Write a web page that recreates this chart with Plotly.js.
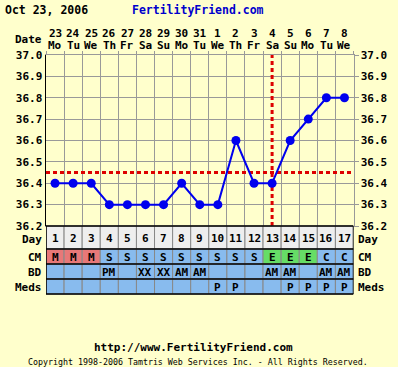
<!DOCTYPE html>
<html>
<head>
<meta charset="utf-8">
<script src="https://cdn.plot.ly/plotly-3.0.1.min.js"></script>
<style>html,body{margin:0;padding:0;background:#FFFFCC;}</style>
</head>
<body>
<div id="chart" style="width:398px;height:367px;"></div>
<script>
// ---- data ----
const days = [1,2,3,4,5,6,7,8,9,10,11,12,13,14,15,16,17];
const dateNums = ["23","24","25","26","27","28","29","30","31","1","2","3","4","5","6","7","8"];
const weekdays = ["Mo","Tu","We","Th","Fr","Sa","Su","Mo","Tu","We","Th","Fr","Sa","Su","Mo","Tu","We"];
const temps = [36.4,36.4,36.4,36.3,36.3,36.3,36.3,36.4,36.3,36.3,36.6,36.4,36.4,36.6,36.7,36.8,36.8];
const cm = ["M","M","M","S","S","S","S","S","S","S","S","S","E","E","E","C","C"];
const bd = ["","","","PM","","XX","XX","AM","AM","","","","AM","AM","","AM","AM"];
const meds = ["","","","","","","","","","P","P","","","P","P","P","P"];
const tempTicks = [36.2,36.3,36.4,36.5,36.6,36.7,36.8,36.9,37.0];
const tempTickText = ["36.2","36.3","36.4","36.5","36.6","36.7","36.8","36.9","37.0"];
const coverline = 36.45;
const ovulationDay = 13;
const chartDate = "Oct 23, 2006";

// ---- layout helpers ----
const W = 398, H = 367;
const py = p => 1 - p / H;
const px = p => p / W;
const BG = "#FFFFCC";
const FONT = "DejaVu Sans Mono";
const FS = 11;
const boldFont = (size, color) => ({family: FONT, size: size, color: color || "#000", weight: "bold"});

const cmColor = {M: "#E87878", S: "#88BBEE", E: "#66DD66", C: "#88BBEE"};
const rows = [
  {name: "Day", top: 226, bot: 249},
  {name: "CM", top: 249, bot: 264},
  {name: "BD", top: 264, bot: 279},
  {name: "Meds", top: 279, bot: 294}
];

const shapes = [];
const annotations = [];

// table cells
rows.forEach((r, ri) => {
  days.forEach((d, i) => {
    let fill = "#88BBEE";
    if (ri === 0) fill = "#EEEEEE";
    if (ri === 1) fill = cmColor[cm[i]];
    shapes.push({type: "rect", xref: "x", yref: "paper", x0: d - 0.5, x1: d + 0.5,
      y0: py(r.bot), y1: py(r.top), fillcolor: fill, line: {color: "#888888", width: 1}, layer: "above"});
  });
});
// horizontal black row separators
[226, 249, 264, 279, 294].forEach(p => {
  shapes.push({type: "line", xref: "x", yref: "paper", x0: 0.5, x1: 17.5, y0: py(p), y1: py(p),
    line: {color: "#000", width: 1.5}, layer: "above"});
});
// left and right table borders
[0.5, 17.5].forEach(x => {
  shapes.push({type: "line", xref: "x", yref: "paper", x0: x, x1: x, y0: py(294), y1: py(226),
    line: {color: "#000", width: 1.5}, layer: "above"});
});

// red dashed lines
shapes.push({type: "line", xref: "x", yref: "y", x0: ovulationDay, x1: ovulationDay, y0: 36.2, y1: 37.0,
  line: {color: "#DD0000", width: 3, dash: "4px,3px"}, layer: "between"});
shapes.push({type: "line", xref: "x", yref: "y", x0: 0.5, x1: 17.5, y0: coverline, y1: coverline,
  line: {color: "#DD0000", width: 3, dash: "4px,3px"}, layer: "between"});

// header dates and table texts
const cellText = (x, p, t) => annotations.push({x: x, y: py(p), xref: "x", yref: "paper", text: t, showarrow: false,
  font: boldFont(FS), xanchor: "center", yanchor: "middle"});
days.forEach((d, i) => {
  cellText(d, 33, dateNums[i]);
  cellText(d, 46, weekdays[i]);
  cellText(d, 238.5, String(d));
  if (cm[i]) cellText(d, 257, cm[i]);
  if (bd[i]) cellText(d, 272, bd[i]);
  if (meds[i]) cellText(d, 287, meds[i]);
});

// row labels
const labelRows = [["Date", 39], ["Day", 239.5], ["CM", 257], ["BD", 272], ["Meds", 287]];
labelRows.forEach(([t, p]) => {
  annotations.push({x: px(44), y: py(p), xref: "paper", yref: "paper", text: t, showarrow: false,
    font: boldFont(FS), xanchor: "right", yanchor: "middle"});
});
labelRows.slice(1).forEach(([t, p]) => {
  annotations.push({x: px(356), y: py(p), xref: "paper", yref: "paper", text: t, showarrow: false,
    font: boldFont(FS), xanchor: "left", yanchor: "middle"});
});

// titles and footer
annotations.push({x: px(3), y: py(10), xref: "paper", yref: "paper", text: chartDate, showarrow: false,
  font: boldFont(11.5), xanchor: "left", yanchor: "middle"});
annotations.push({x: px(198), y: py(10), xref: "paper", yref: "paper", text: "FertilityFriend.com", showarrow: false,
  font: boldFont(11.5, "#0000CC"), xanchor: "center", yanchor: "middle"});
annotations.push({x: px(193), y: py(347), xref: "paper", yref: "paper", text: "http://www.FertilityFriend.com", showarrow: false,
  font: boldFont(11), xanchor: "center", yanchor: "middle"});
annotations.push({x: px(198), y: py(362), xref: "paper", yref: "paper",
  text: "Copyright 1998-2006 Tamtris Web Services Inc. - All Rights Reserved.", showarrow: false,
  font: {family: FONT, size: 8.3, color: "#000"}, xanchor: "center", yanchor: "middle"});

const traces = [
  {x: days, y: temps, type: "scatter", mode: "lines+markers",
   line: {color: "#0000EE", width: 2}, marker: {color: "#0000EE", size: 9},
   hoverinfo: "skip", showlegend: false},
  {x: [1], y: [36.5], yaxis: "y2", type: "scatter", mode: "markers",
   marker: {opacity: 0}, hoverinfo: "skip", showlegend: false}
];

const xDomain = [px(46), px(353.5)];
const yDomain = [py(226), py(55)];
const layout = {
  width: W, height: H,
  margin: {l: 0, r: 0, t: 0, b: 0},
  paper_bgcolor: BG, plot_bgcolor: BG,
  showlegend: false,
  xaxis: {domain: xDomain, range: [0.5, 17.5], tickvals: [0.5,1.5,2.5,3.5,4.5,5.5,6.5,7.5,8.5,9.5,10.5,11.5,12.5,13.5,14.5,15.5,16.5,17.5],
    showticklabels: false, showgrid: true, gridcolor: "#999999", gridwidth: 1, zeroline: false,
    showline: true, linecolor: "#999999", mirror: "ticks", ticks: "outside", ticklen: 3, tickcolor: "#999999", fixedrange: true},
  yaxis: {domain: yDomain, range: [36.2, 37.0], tickvals: tempTicks, ticktext: tempTickText,
    showgrid: true, gridcolor: "#999999", gridwidth: 1, zeroline: false,
    showline: true, linecolor: "#000", linewidth: 1.5, ticks: "",
    tickfont: boldFont(FS), fixedrange: true},
  yaxis2: {domain: yDomain, range: [36.2, 37.0], overlaying: "y", side: "right", anchor: "x",
    tickvals: tempTicks, ticktext: tempTickText, showgrid: false, zeroline: false,
    showline: true, linecolor: "#999999", ticks: "outside", ticklen: 4, tickcolor: "#999999",
    tickfont: boldFont(FS), fixedrange: true},
  shapes: shapes,
  annotations: annotations
};

Plotly.newPlot("chart", traces, layout, {displayModeBar: false, staticPlot: true});
</script>
</body>
</html>
